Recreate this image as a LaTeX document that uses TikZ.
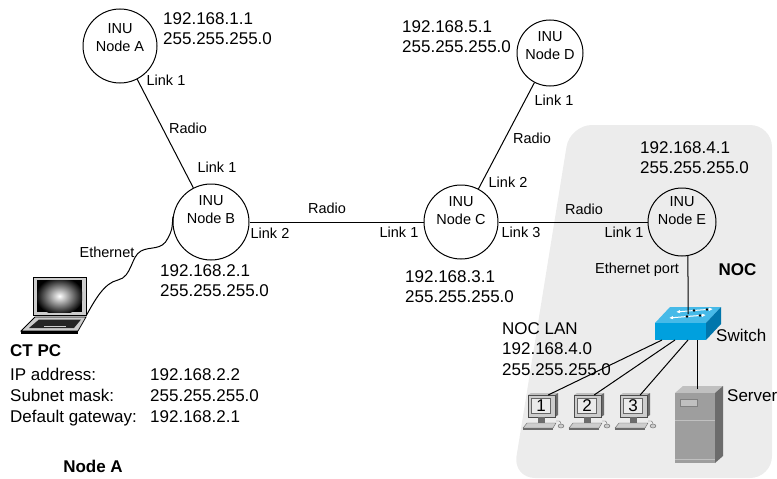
\documentclass[tikz,border=0pt]{standalone}
\usepackage{fontspec}
\setmainfont{Liberation Sans}
\usetikzlibrary{calc,arrows.meta}
\definecolor{nocgray}{RGB}{236,236,236}
\definecolor{swtopc}{RGB}{70,186,232}
\definecolor{swfrontc}{RGB}{0,160,222}
\definecolor{swsidec}{RGB}{0,118,172}
\definecolor{srvfront}{RGB}{158,158,158}
\definecolor{srvside}{RGB}{108,108,108}
\definecolor{srvtopc}{RGB}{192,192,192}
\definecolor{bezel}{RGB}{205,205,205}
\begin{document}
\begin{tikzpicture}[x=1pt,y=-1pt,
  inu/.style={circle, draw, line width=1pt, inner sep=0pt, minimum size=#1},
  inu/.default=74,
  lbl/.style={font=\fontsize{14.5}{18}\selectfont, inner sep=0pt},
  inutext/.style={lbl, align=center},
  ip/.style={font=\fontsize{17}{20.5}\selectfont, inner sep=0pt, align=left, anchor=north west},
  big/.style={font=\fontsize{17}{20.5}\selectfont, inner sep=0pt, anchor=base west},
  bold/.style={font=\fontsize{17}{20.5}\selectfont\bfseries, inner sep=0pt},
  link/.style={line width=1pt},
  pics/pcicon/.style={code={
    % monitor top, side and front
    \fill[srvtopc] (-15,0) -- (-12,-2) -- (15,-2) -- (12,0) -- cycle;
    \fill[srvside] (12,0) -- (15,-2) -- (15,20) -- (12,22) -- cycle;
    \node[draw=black!70, fill=bezel, minimum width=27, minimum height=22,
          inner sep=0pt, anchor=north west] (-mon) at (-15,0) {};
    \node[draw=black!60, fill=white!92!black, minimum width=19, minimum height=15,
          inner sep=0pt, font=\fontsize{17}{17}\selectfont] (-num) at (-2,11) {#1};
    % stand, keyboard and mouse
    \fill[srvside] (-5,22) rectangle (2,28);
    \filldraw[fill=bezel, draw=black!60] (-20,33) -- (-16,28) -- (13,28) -- (10,33) -- cycle;
    \fill[srvside] (-20,33) rectangle (10,35);
    \filldraw[fill=bezel, draw=black!60] (18,31) ellipse [x radius=3, y radius=2];
    \draw[black!60] (18,29) .. controls (18,26) and (15,25) .. (13,26);
  }},
]
\useasboundingbox (0,0) rectangle (777,479);

% NOC area
\fill[nocgray, rounded corners=22] (570,125) -- (772,125) -- (772,478) -- (513,478) -- cycle;

% INU nodes
\node[inu] (A) at (120,46) {};
\node[inu=76] (B) at (211,222) {};
\node[inu] (C) at (461,222) {};
\node[inu=66] (D) at (550,53) {};
\node[inu=68] (E) at (682,222) {};
\node[inutext] (At) at (120,37.5) {INU\\Node A};
\node[inutext] (Bt) at (211,210) {INU\\Node B};
\node[inutext] (Ct) at (461,210.5) {INU\\Node C};
\node[inutext] (Dt) at (550,46) {INU\\Node D};
\node[inutext] (Et) at (682,211) {INU\\Node E};

% radio links
\draw[link] (A) -- (B);
\draw[link] (B) -- (C);
\draw[link] (C) -- (D);
\draw[link] (C) -- (E);

% link labels
\node[lbl] (lA1) at (166,80) {Link 1};
\node[lbl] (rAB) at (188,128) {Radio};
\node[lbl] (lB1) at (217,167) {Link 1};
\node[lbl] (lB2) at (270,233) {Link 2};
\node[lbl] (rBC) at (327,208) {Radio};
\node[lbl] (lC1) at (399,232) {Link 1};
\node[lbl] (lC3) at (521,232) {Link 3};
\node[lbl] (rCE) at (584,209) {Radio};
\node[lbl] (lE1) at (624,232) {Link 1};
\node[lbl] (lC2) at (508,182) {Link 2};
\node[lbl] (rCD) at (532,138) {Radio};
\node[lbl] (lD1) at (554,100) {Link 1};
\node[lbl] (eth) at (107,252) {Ethernet};
\node[lbl] (ethp) at (637,270) {Ethernet port};

% addresses
\node[ip] (ipA) at (163,12) {192.168.1.1\\255.255.255.0};
\node[ip] (ipB) at (160,264) {192.168.2.1\\255.255.255.0};
\node[ip] (ipC) at (405,270) {192.168.3.1\\255.255.255.0};
\node[ip] (ipD) at (402,20) {192.168.5.1\\255.255.255.0};
\node[ip] (ipE) at (640,141) {192.168.4.1\\255.255.255.0};
\node[ip] (lan) at (502,322) {NOC LAN\\192.168.4.0\\255.255.255.0};

% laptop
\filldraw[fill=bezel, draw=black, line width=0.8pt] (33,277) rectangle (86,315);
\fill[black] (37,280) rectangle (82,312);
\begin{scope}
  \clip (37,280) rectangle (82,312);
  \shade[inner color=white, outer color=black] (59.5,296) ellipse [x radius=24, y radius=19];
\end{scope}
\filldraw[fill=bezel, draw=black, line width=0.8pt] (21,331) -- (35,317) -- (86,317) -- (78,331) -- cycle;
\fill[black] (21,331) -- (78,331) -- (78,334) -- (21,334) -- cycle;
\fill[black!85] (29,328) -- (39,319.5) -- (81,319.5) -- (74,328) -- cycle;
\draw[bezel, line width=0.8pt] (44,326) -- (66,326);
\coordinate (lap) at (86,316);

% Ethernet cable to node B
\draw[link] (lap) .. controls (95,300) and (104,283) .. (118,280)
  .. controls (132,277) and (131,256) .. (141,251)
  .. controls (150,246) and (162,251) .. (168,238)
  .. controls (172,230) .. (B.172);

% CT PC settings
\node[bold, anchor=base west] (ctpc) at (10,356) {CT PC};
\node[big] (ipl) at (10,380) {IP address:};
\node[big] (ipv) at (150,380) {192.168.2.2};
\node[big] (snl) at (10,401) {Subnet mask:};
\node[big] (snv) at (150,401) {255.255.255.0};
\node[big] (dgl) at (10,422) {Default gateway:};
\node[big] (dgv) at (150,422) {192.168.2.1};
\node[bold, anchor=base] (nodea) at (93,472) {Node A};

% switch
\fill[swtopc] (655,323) -- (670,307) -- (721,307) -- (706,323) -- cycle;
\fill[swfrontc] (655,323) rectangle (706,340);
\fill[swsidec] (706,323) -- (721,307) -- (721,324) -- (706,340) -- cycle;
\draw[white, line width=1pt, -{Latex[length=4pt,width=3.5pt]}] (694,310.5) -- (676,312);
\draw[white, line width=1pt, -{Latex[length=4pt,width=3.5pt]}] (694,310.5) -- (713,309);
\draw[white, line width=1pt, -{Latex[length=4pt,width=3.5pt]}] (687,316.5) -- (669,318);
\draw[white, line width=1pt, -{Latex[length=4pt,width=3.5pt]}] (687,316.5) -- (706,315);
\fill[black] (694,310.5) circle [radius=1.4] (707,309.5) circle [radius=1.4]
             (687,316.5) circle [radius=1.4] (700,315.5) circle [radius=1.4];
\coordinate (swtop) at (688,314);
\coordinate (sw1) at (662,340);
\coordinate (sw2) at (675,340);
\coordinate (sw3) at (688,340);
\coordinate (sw4) at (697,340);
\node[bold] (noc) at (737.5,270) {NOC};
\node[big] (swl) at (716,341) {Switch};

% server
\fill[srvtopc] (675,393) -- (683,386) -- (723,386) -- (715,393) -- cycle;
\fill[srvfront] (675,393) rectangle (715,463);
\fill[srvside] (715,393) -- (723,386) -- (723,456) -- (715,463) -- cycle;
\filldraw[fill=srvtopc, draw=black!50] (680,399) rectangle (697,406);
\draw[srvtopc, line width=0.8pt] (675,420) -- (715,420);
\draw[srvtopc, line width=0.8pt] (675,459) -- (715,459);
\coordinate (srv) at (697,389);
\node[big] (srvl) at (727,401) {Server};

% LAN workstations
\pic (pc1) at (543,395) {pcicon=1};
\pic (pc2) at (589,395) {pcicon=2};
\pic (pc3) at (635,395) {pcicon=3};

% wired links
\draw[link] (E.280) -- (swtop);
\draw[link] (sw1) -- (pc1-mon.60);
\draw[link] (sw2) -- (pc2-mon.60);
\draw[link] (sw3) -- (pc3-mon.60);
\draw[link] (sw4) -- (srv);
\end{tikzpicture}
\end{document}
